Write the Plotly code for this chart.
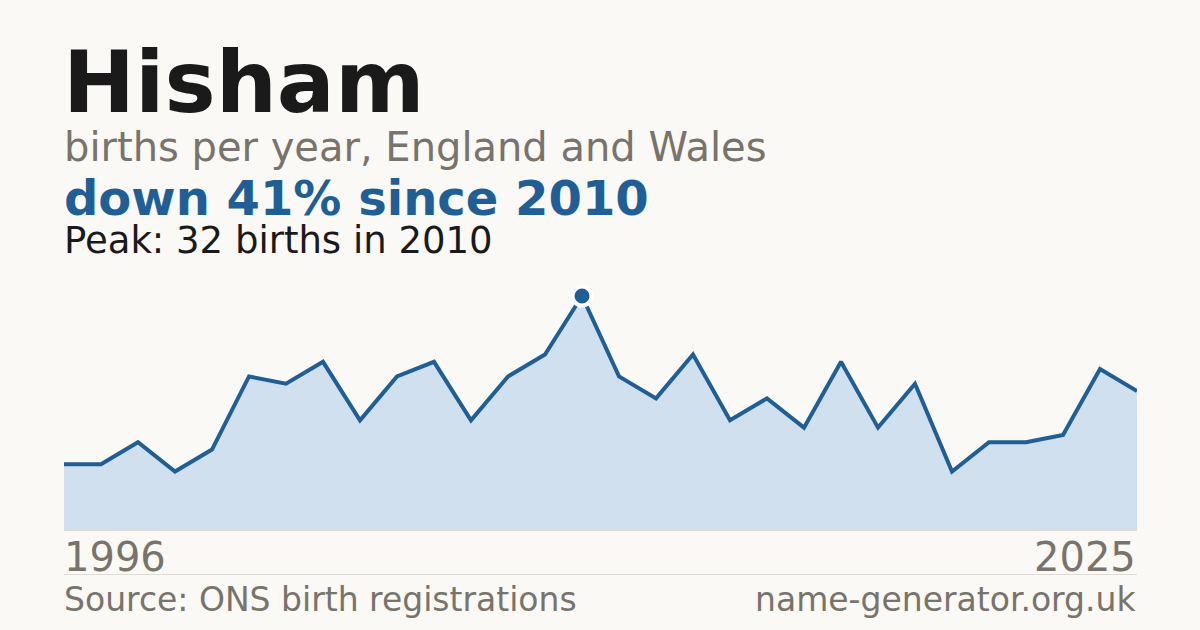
import plotly.graph_objects as go

W, H = 1200, 630

years = list(range(1996, 2026))
births = [9, 9, 12, 8, 11, 21, 20, 23, 15, 21,
          23, 15, 21, 24, 32, 21, 18, 24, 15, 18,
          14, 23, 14, 20, 8, 12, 12, 13, 22, 19]

peak_year = 2010
peak_value = 32

BG = "#faf9f5"
BLUE = "#1f5f95"
FILL = "#d0e0ef"
GREY = "#78736b"
DARK = "#1a1a1a"
FONT = "DejaVu Sans"


def px_x(x):
    return x / W


def px_y(y):
    return (H - y) / H


fig = go.Figure()
fig.add_trace(go.Scatter(
    x=years, y=births, mode="lines", fill="tozeroy",
    fillcolor=FILL, line=dict(color=BLUE, width=4),
    hoverinfo="skip",
))
fig.add_trace(go.Scatter(
    x=[peak_year], y=[peak_value], mode="markers",
    marker=dict(size=19, color=BLUE, line=dict(color="white", width=4)),
    cliponaxis=False, hoverinfo="skip",
))

y_top = 34
fig.update_layout(
    width=W, height=H,
    paper_bgcolor=BG, plot_bgcolor=BG,
    margin=dict(l=0, r=0, t=0, b=0),
    showlegend=False,
    xaxis=dict(domain=[px_x(64), px_x(1137)], range=[1996, 2025],
               visible=False, fixedrange=True),
    yaxis=dict(domain=[px_y(530), px_y(530 - y_top * (234 / 32))],
               range=[0, y_top], visible=False, fixedrange=True),
)

# faint baseline under the area and divider above the footer
fig.add_shape(type="line", xref="paper", yref="paper",
              x0=px_x(64), x1=px_x(1137), y0=px_y(530.5), y1=px_y(530.5),
              line=dict(color="#dedbd4", width=1))
fig.add_shape(type="line", xref="paper", yref="paper",
              x0=px_x(64), x1=px_x(1137), y0=px_y(574.5), y1=px_y(574.5),
              line=dict(color="#dedbd4", width=1))


def label(text, x, y_base, size, color, bold=False, anchor="left"):
    # y_base: approx pixel baseline; shift to box bottom using font descent
    txt = f"<b>{text}</b>" if bold else text
    fig.add_annotation(
        text=txt, xref="paper", yref="paper",
        x=px_x(x), y=px_y(y_base + 0.24 * size),
        xanchor=anchor, yanchor="bottom", showarrow=False,
        font=dict(family=FONT, size=size, color=color),
        borderpad=0,
    )


label("Hisham", 62, 112, 86, DARK, bold=True)
label("births per year, England and Wales", 63, 161, 40, GREY)
label(f"down 41% since {peak_year}", 63, 215, 48, BLUE, bold=True)
label(f"Peak: {peak_value} births in {peak_year}", 63, 254, 37, DARK)
label(str(years[0]), 63, 571, 40, GREY)
label(str(years[-1]), 1137, 571, 40, GREY, anchor="right")
label("Source: ONS birth registrations", 63, 612, 33, GREY)
label("name-generator.org.uk", 1137, 612, 33, GREY, anchor="right")

# page body margin would shift the chart, drop it
fig.write_html("out.html", config={"displayModeBar": False},
               post_script="document.body.style.margin='0';")
